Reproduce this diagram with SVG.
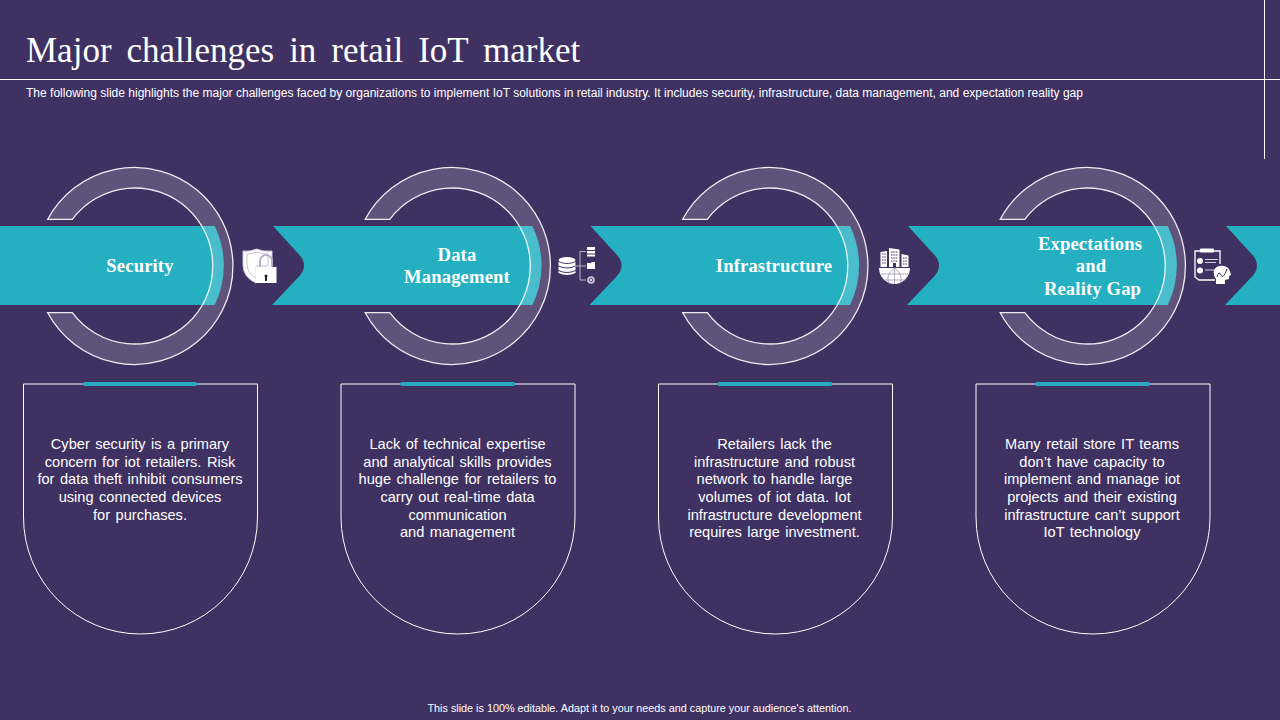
<svg xmlns="http://www.w3.org/2000/svg" width="1280" height="720" viewBox="0 0 1280 720">
<style>
.title{font:35px "Liberation Serif",serif;fill:#fff;word-spacing:6.200px}
.sub{font:12px "Liberation Sans",Arial,sans-serif;fill:#fff}
.foot{font:10.8px "Liberation Sans",Arial,sans-serif;fill:#fff;text-anchor:middle}
.label{font:bold 18.6px "Liberation Serif",serif;fill:#fff;text-anchor:middle;letter-spacing:.15px}
.body{font:14.6px "Liberation Sans",Arial,sans-serif;fill:#fff;text-anchor:middle;word-spacing:1.400px}
.band{fill:#25B0C1}
.ring{fill:#fff;fill-opacity:.17;stroke:#fff;stroke-opacity:.9;stroke-width:1.300}
.card{fill:none;stroke:#fff;stroke-width:1}
.bar{fill:#29A9BF}
.ic{fill:#fff}
.dk{fill:#3F3162}
</style>
<defs>
<path id="ringShape" class="ring" d="M47.700 219.300A98.500 98.500 0 1 1 47.700 312.700H72.300A78 78 0 1 0 72.300 219.300Z"/>
<path id="cardShape" class="card" d="M23.500 384H257.500V517A117 117 0 0 1 23.500 517Z"/>
<rect id="barShape" class="bar" x="82.500" y="382" width="115" height="4" rx="2"/>
</defs>
<rect width="1280" height="720" fill="#3F3162"/>
<text class="title" x="26" y="62">Major challenges in retail IoT market</text>
<path d="M0 79.500H1280M1264.500 0V159" stroke="#fff" stroke-width="1" fill="none"/>
<text class="sub" x="26" y="97" textLength="1057" lengthAdjust="spacingAndGlyphs">The following slide highlights the major challenges faced by organizations to implement IoT solutions in retail industry. It includes security, infrastructure, data management, and expectation reality gap</text>
<g id="bands">
<path class="band" d="M0 226H214.700A90 90 0 0 1 214.700 305H0Z"/>
<path class="band" d="M273 226H532.400A90 90 0 0 1 532.400 305H272L299.500 276Q304 271 304 265.500T299.500 255Z"/>
<path class="band" d="M590.500 226H850A90 90 0 0 1 850 305H589.500L617 276Q621.500 271 621.500 265.500T617 255Z"/>
<path class="band" d="M908 226H1167.700A90 90 0 0 1 1167.700 305H907L934.500 276Q939 271 939 265.500T934.500 255Z"/>
<path class="band" d="M1226 226H1280V305H1225L1252.500 276Q1257 271 1257 265.500T1252.500 255Z"/>
</g>
<g id="node-security">
<use href="#ringShape"/>
<text class="label" x="140" y="272">Security</text>
<use href="#cardShape"/><use href="#barShape"/>
<text class="body"><tspan x="140" y="449">Cyber security is a primary</tspan><tspan x="140" y="467">concern for iot retailers. Risk</tspan><tspan x="140" y="484">for data theft inhibit consumers</tspan><tspan x="140" y="502">using connected devices</tspan><tspan x="140" y="520">for purchases.</tspan></text>
<g id="icon-security">
<path d="M243 251Q250 252 256.500 249Q263 252 272 251V268H256V283Q243 277 243 265Z" fill="#fff" stroke="#cfc8e0" stroke-width="1"/>
<path d="M247 254Q252 254 257 252Q262 254 268 254V266H256V278Q247 273 247 264Z" fill="none" stroke="#b9b0d0" stroke-width=".8"/>
<path d="M260 267V261A6 6 0 0 1 272 261V267" fill="none" stroke="#b9b0c8" stroke-width="2"/>
<rect x="255.500" y="267" width="21" height="16" fill="#fff"/>
<rect x="265" y="277" width="2" height="4" fill="#222"/><circle cx="266" cy="276" r="1.500" fill="#222"/>
</g>
</g>
<g id="node-data">
<g transform="translate(317.500 0)"><use href="#ringShape"/><use href="#cardShape"/><use href="#barShape"/></g>
<text class="label"><tspan x="457" y="261">Data</tspan><tspan x="457" y="283">Management</tspan></text>
<text class="body"><tspan x="457.500" y="449">Lack of technical expertise</tspan><tspan x="457.500" y="467">and analytical skills provides</tspan><tspan x="457.500" y="484">huge challenge for retailers to</tspan><tspan x="457.500" y="502">carry out real-time data</tspan><tspan x="457.500" y="520">communication</tspan><tspan x="457.500" y="537">and management</tspan></text>
<g id="icon-data">
<ellipse class="ic" cx="567" cy="260" rx="8.500" ry="3"/>
<path class="ic" d="M558.500 262Q567 266 575.500 262V265.500Q567 269.500 558.500 265.500ZM558.500 266.500Q567 270.500 575.500 266.500V270Q567 274 558.500 270ZM558.500 271Q567 275 575.500 271V273Q567 277 558.500 273Z"/>
<path d="M575 266H580M580 251.500V280H586M580 251.500H586M580 266H586" fill="none" stroke="#d8d4e2" stroke-width=".8"/>
<rect class="ic" x="587" y="247" width="8" height="3"/><rect class="ic" x="587" y="251" width="8" height="2.500"/><rect class="ic" x="587" y="254.500" width="8" height="2"/>
<path class="ic" d="M587 263H591L592 262H595V269H587Z"/>
<circle cx="591" cy="280" r="3.800" fill="#cfcad8"/><circle cx="591" cy="280" r="1.800" fill="none" stroke="#3F3162" stroke-width=".7"/>
</g>
</g>
<g id="node-infra">
<g transform="translate(635 0)"><use href="#ringShape"/><use href="#cardShape"/><use href="#barShape"/></g>
<text class="label" x="774" y="272">Infrastructure</text>
<text class="body"><tspan x="774.500" y="449">Retailers lack the</tspan><tspan x="774.500" y="467">infrastructure and robust</tspan><tspan x="774.500" y="484">network to handle large</tspan><tspan x="774.500" y="502">volumes of iot data. Iot</tspan><tspan x="774.500" y="520">infrastructure development</tspan><tspan x="774.500" y="537">requires large investment.</tspan></text>
<g id="icon-infra">
<path class="ic" d="M880.500 252L887 251V267H880.500ZM889 248L899.500 249.500V267H889ZM901.500 254L908.500 255.500V267H901.500Z"/>
<path d="M882 254H886M882 257H886M882 260H886M882 263H886M891 252H898M891 255H898M891 258H898M891 261H898M903 258H907M903 261H907M903 264H907" stroke="#3F3162" stroke-width="1" stroke-dasharray="1.500 .8" fill="none"/>
<rect x="893" y="263" width="3" height="4" class="dk"/>
<path class="ic" d="M879 268H910A15.500 16 0 0 1 879 268Z"/>
<path d="M894.500 268V284M881 274H908M884 280H905M894.500 268Q885 275 889 284M894.500 268Q904 275 900 284" fill="none" stroke="#8f86a8" stroke-width=".7"/>
</g>
</g>
<g id="node-expect">
<g transform="translate(952.500 0)"><use href="#ringShape"/><use href="#cardShape"/><use href="#barShape"/></g>
<text class="label"><tspan x="1090" y="250">Expectations</tspan><tspan x="1091" y="272">and</tspan><tspan x="1092.500" y="295">Reality Gap</tspan></text>
<text class="body"><tspan x="1092" y="449">Many retail store IT teams</tspan><tspan x="1092" y="467">don’t have capacity to</tspan><tspan x="1092" y="484">implement and manage iot</tspan><tspan x="1092" y="502">projects and their existing</tspan><tspan x="1092" y="520">infrastructure can’t support</tspan><tspan x="1092" y="537">IoT technology</tspan></text>
<g id="icon-expect">
<path d="M1200 251H1195V277L1199 280H1215M1214 251H1220V264" fill="none" stroke="#fff" stroke-width="1.300"/>
<rect class="ic" x="1200" y="248.500" width="14" height="4" rx="1"/>
<circle class="ic" cx="1200" cy="261" r="3"/><circle class="ic" cx="1200" cy="270.500" r="3"/>
<path d="M1205 259.500H1218M1205 262.500H1216M1205 270H1214" stroke="#d5d0e0" stroke-width="1.200" fill="none"/>
<path class="ic" d="M1214 270A9 8.500 0 0 1 1230 271L1231 275L1229 276V279L1225 280V284H1216V279Q1213 276 1214 270Z"/>
<path d="M1217 277Q1219 270 1221 275T1227 269" fill="none" stroke="#3F3162" stroke-width="1"/>
</g>
</g>
<text class="foot" x="639.500" y="712">This slide is 100% editable. Adapt it to your needs and capture your audience's attention.</text>
</svg>
